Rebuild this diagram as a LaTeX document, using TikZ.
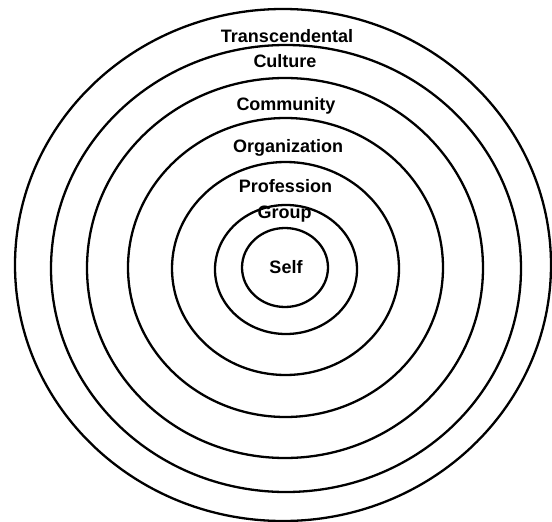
\documentclass[tikz,border=0pt]{standalone}
\usepackage{fontspec}
\setmainfont{Liberation Sans}
\begin{document}
\begin{tikzpicture}[x=1pt,y=-1pt,
  ring/.style={draw=black,line width=2.3pt},
  lbl/.style={font=\fontsize{18}{20}\selectfont\bfseries,anchor=base,inner sep=0pt}]
\useasboundingbox (0,0) rectangle (552,522);
\fill[white] (0,0) rectangle (552,522);
\draw[ring] (283,265) ellipse [x radius=268,y radius=256];
\draw[ring] (286,268.5) ellipse [x radius=235,y radius=223.5];
\draw[ring] (285,268) ellipse [x radius=198,y radius=190];
\draw[ring] (285.5,267.5) ellipse [x radius=157.5,y radius=149.5];
\draw[ring] (285.5,268.5) ellipse [x radius=113.5,y radius=106.5];
\draw[ring] (286,269.5) ellipse [x radius=71,y radius=64.5];
\draw[ring] (285,267.5) ellipse [x radius=43,y radius=39.5];
\node[lbl] (trans) at (287,42) {Transcendental};
\node[lbl] (cult) at (285,67) {Culture};
\node[lbl] (comm) at (286,110) {Community};
\node[lbl] (org) at (288,152) {Organization};
\node[lbl] (prof) at (285.5,192) {Profession};
\node[lbl] (grp) at (284.5,218) {Group};
\node[lbl] (self) at (286,273) {Self};
\end{tikzpicture}
\end{document}
